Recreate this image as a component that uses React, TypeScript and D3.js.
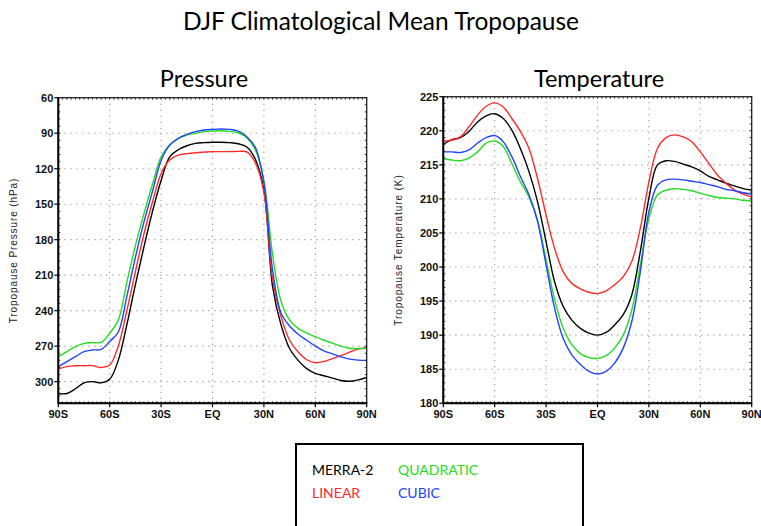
import React from "react";
import * as d3 from "d3";

const lats = d3.range(-90, 91, 5);

const xTickVals = [-90, -60, -30, 0, 30, 60, 90];
const xTickLabels = ["90S", "60S", "30S", "EQ", "30N", "60N", "90N"];
const pTicks = [60, 90, 120, 150, 180, 210, 240, 270, 300];
const tTicks = [180, 185, 190, 195, 200, 205, 210, 215, 220, 225];

// Pressure (hPa), 90S -> 90N every 5 degrees
const pMerra = [310, 310, 306, 301, 300, 301, 298, 282, 252, 218, 186, 156, 130, 110, 104, 100.6, 98.6, 98, 97.7, 97.7, 98, 98.9, 101.7, 112, 138, 219, 252, 272, 282, 289, 293, 295, 297, 299, 299.7, 298.5, 296.5];
const pLinear = [289.3, 287.3, 286.5, 286.5, 286.5, 288, 286, 270, 240, 207, 175, 148, 124, 112.7, 108.5, 107.3, 106.5, 106, 105.6, 105.6, 105.6, 105.4, 105.8, 115, 140, 213, 245, 265, 275, 281.5, 284, 283, 280.5, 278, 275, 272.5, 271];
const pQuadratic = [278.9, 274.6, 270.4, 267.6, 267, 266.8, 259, 248, 216, 185, 158, 133, 110, 100, 94.4, 91.5, 90, 88.7, 88.2, 87.9, 88.5, 89.6, 93.8, 104, 130, 192, 232, 248, 255, 259, 262, 265, 267.5, 270, 271.8, 272, 272];
const pCubic = [287.3, 283, 278.9, 274.6, 273.2, 272.7, 266, 258, 228, 195, 165, 139, 113, 100, 94.4, 91, 88.7, 87.3, 86.8, 86.5, 86.8, 88.2, 93, 102, 132, 205, 242, 253, 260, 265, 270, 274, 276.5, 279, 281, 281.8, 282];

// Temperature (K)
const tMerra = [218, 218.7, 219, 219.9, 221.3, 222.2, 222.5, 221.8, 220.1, 217.4, 214, 209.6, 203.7, 197.8, 194.2, 192.2, 191, 190.3, 190, 190.4, 191.5, 193, 195.9, 202.3, 210.1, 215, 215.6, 215.5, 215.1, 214.7, 214.1, 213.3, 212.8, 212.3, 211.9, 211.5, 211.3];
const tLinear = [218.5, 218.6, 219.1, 220.6, 222.3, 223.6, 224.1, 223.5, 221.8, 219.9, 217.4, 213, 207.6, 202.7, 199.3, 197.6, 196.8, 196.3, 196.1, 196.5, 197.4, 198.6, 200.8, 205.7, 212.5, 217.4, 219, 219.4, 219.1, 218.4, 216.9, 215.2, 213.5, 212.3, 211.3, 210.7, 210.3];
const tQuadratic = [215.9, 215.7, 215.6, 216, 216.9, 218.2, 218.5, 217.7, 215.2, 212.5, 210.3, 206.9, 201, 195.2, 191, 188.6, 187.3, 186.7, 186.6, 187, 188.1, 190, 193.7, 200.3, 207.1, 210.6, 211.3, 211.5, 211.4, 211.2, 210.8, 210.5, 210.2, 210.1, 210, 209.8, 209.7];
const tCubic = [216.9, 216.9, 216.8, 217.2, 218.2, 219, 219.3, 218.4, 216.2, 213.3, 210.6, 206.7, 200.3, 193.9, 189.5, 187.1, 185.7, 184.7, 184.3, 184.7, 185.9, 188.1, 192, 199.3, 208.1, 212, 212.8, 212.9, 212.8, 212.6, 212.4, 212.1, 211.8, 211.4, 211.2, 210.9, 210.7];

const seriesNames = ["MERRA-2", "LINEAR", "QUADRATIC", "CUBIC"];
const seriesColors = ["#000000", "#ff2a2a", "#22dd22", "#2244ff"];

const gridColor = "#9a9a9a";
const tickFont = "'Liberation Sans', Arial, sans-serif";
const titleFont = "Lato, 'Noto Sans', sans-serif";

type PanelProps = {
  x0: number; x1: number; y0: number; y1: number;
  yDomain: [number, number];
  yTicks: number[];
  series: number[][];
  yLabel: string;
  title: string;
  titleX: number;
  minorY: number;
};

function Panel(p: PanelProps) {
  const x = d3.scaleLinear().domain([-90, 90]).range([p.x0, p.x1]);
  const y = d3.scaleLinear().domain(p.yDomain).range([p.y0, p.y1]);
  const line = d3.line<number>()
    .x((_, i) => x(lats[i]))
    .y((v) => y(v))
    .curve(d3.curveCatmullRom.alpha(0.5));
  const minorX = d3.range(-90, 90.01, 2.5);
  const yMin = Math.min(...p.yDomain), yMax = Math.max(...p.yDomain);
  const minorYs = d3.range(yMin, yMax + 0.001, p.minorY);
  const midY = (p.y0 + p.y1) / 2;
  const bottom = Math.max(p.y0, p.y1);
  return (
    <g>
      <text x={p.titleX} y={87} textAnchor="middle" fontFamily={titleFont} fontSize={23.5} fill="#000">{p.title}</text>
      {/* grid */}
      {xTickVals.slice(1, -1).map((v) => (
        <line key={"gx" + v} x1={x(v)} x2={x(v)} y1={p.y0} y2={p.y1} stroke={gridColor} strokeWidth={1.1} strokeDasharray="1.2 4.8" />
      ))}
      {p.yTicks.filter((v) => v !== yMin && v !== yMax).map((v) => (
        <line key={"gy" + v} x1={p.x0} x2={p.x1} y1={y(v)} y2={y(v)} stroke={gridColor} strokeWidth={1.1} strokeDasharray="1.2 4.8" />
      ))}
      {/* series */}
      {p.series.map((s, i) => (
        <path key={"s" + i} d={line(s) || ""} fill="none" stroke={seriesColors[i]} strokeWidth={1.4} />
      ))}
      {/* minor ticks */}
      {minorX.map((v) => (
        <g key={"mx" + v}>
          <line x1={x(v)} x2={x(v)} y1={p.y0} y2={p.y0 + (p.y1 > p.y0 ? 2 : -2)} stroke="#333" strokeWidth={1} />
          <line x1={x(v)} x2={x(v)} y1={p.y1} y2={p.y1 + (p.y1 > p.y0 ? -2 : 2)} stroke="#333" strokeWidth={1} />
        </g>
      ))}
      {minorYs.map((v) => (
        <g key={"my" + v}>
          <line x1={p.x0} x2={p.x0 + 2} y1={y(v)} y2={y(v)} stroke="#333" strokeWidth={1} />
          <line x1={p.x1} x2={p.x1 - 2} y1={y(v)} y2={y(v)} stroke="#333" strokeWidth={1} />
        </g>
      ))}
      {/* frame */}
      <rect x={p.x0} y={Math.min(p.y0, p.y1)} width={p.x1 - p.x0} height={Math.abs(p.y1 - p.y0)} fill="none" stroke="#222" strokeWidth={1.3} />
      <line x1={p.x0} x2={p.x0} y1={p.y0} y2={p.y1} stroke="#000" strokeWidth={2} />
      <line x1={p.x0} x2={p.x1} y1={bottom} y2={bottom} stroke="#000" strokeWidth={2} />
      {/* major ticks + labels */}
      {xTickVals.map((v, i) => (
        <g key={"xt" + v}>
          <line x1={x(v)} x2={x(v)} y1={bottom} y2={bottom + 4} stroke="#000" strokeWidth={1.2} />
          <text x={x(v)} y={bottom + 14.5} textAnchor="middle" fontFamily={tickFont} fontWeight="bold" fontSize={11} fill="#111">{xTickLabels[i]}</text>
        </g>
      ))}
      {p.yTicks.map((v) => (
        <g key={"yt" + v}>
          <line x1={p.x0 - 4} x2={p.x0} y1={y(v)} y2={y(v)} stroke="#000" strokeWidth={1.2} />
          <text x={p.x0 - 5} y={y(v) + 4} textAnchor="end" fontFamily={tickFont} fontWeight="bold" fontSize={11} fill="#111">{v}</text>
        </g>
      ))}
      <text transform={`translate(${p.x0 - 41},${midY}) rotate(-90)`} textAnchor="middle" fontFamily={tickFont} fontSize={10} letterSpacing={0.9} fill="#222">{p.yLabel}</text>
    </g>
  );
}

export default function App() {
  return (
    <svg width={761} height={526} style={{ position: "absolute", left: 0, top: 0, background: "#fff" }}>
      <rect x={0} y={0} width={761} height={526} fill="#fff" />
      <text x={381} y={30} textAnchor="middle" fontFamily={titleFont} fontSize={24.5} fill="#000">DJF Climatological Mean Tropopause</text>
      <Panel x0={58.3} x1={366.7} y0={97.7} y1={403.3} yDomain={[60, 318.3]} yTicks={pTicks}
        series={[pMerra, pLinear, pQuadratic, pCubic]} yLabel="Tropopause Pressure (hPa)" title="Pressure" titleX={204} minorY={6} />
      <Panel x0={443.3} x1={751.7} y0={403.3} y1={96.7} yDomain={[180, 225]} yTicks={tTicks}
        series={[tMerra, tLinear, tQuadratic, tCubic]} yLabel="Tropopause Temperature (K)" title="Temperature" titleX={599} minorY={1} />
      {/* legend */}
      <rect x={296} y={444} width={287} height={100} fill="#fff" stroke="#000" strokeWidth={2} />
      {seriesNames.map((n, i) => (
        <text key={n} x={i >= 2 ? 398 : 312} y={i % 2 === 0 ? 475 : 498}
          fontFamily={titleFont} fontSize={14} fill={seriesColors[i]}>{n}</text>
      ))}
    </svg>
  );
}
